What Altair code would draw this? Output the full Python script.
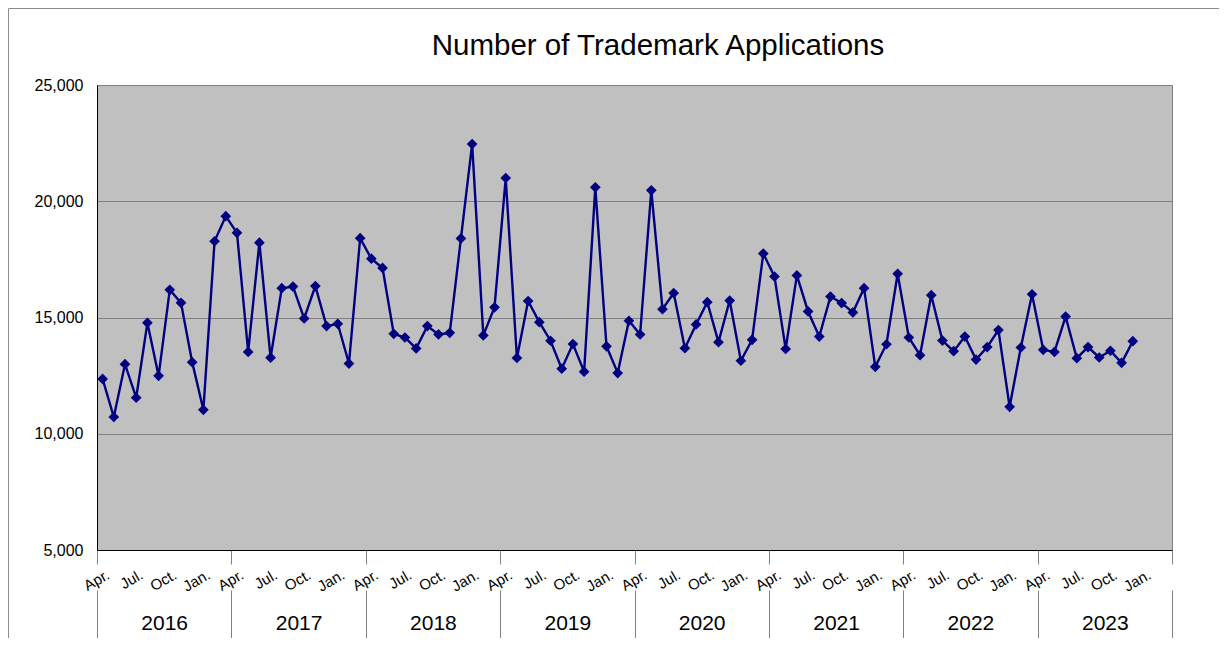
import altair as alt
import pandas as pd

# ---- data (fiscal years, April..March) ----
chart_title = "Number of Trademark Applications"
fiscal_years = ["2016", "2017", "2018", "2019", "2020", "2021", "2022", "2023"]
months = ["Apr.", "May", "Jun.", "Jul.", "Aug.", "Sep.", "Oct.", "Nov.", "Dec.", "Jan.", "Feb.", "Mar."]
month_tick_labels = ["Apr.", "Jul.", "Oct.", "Jan."]
y_ticks = [5000, 10000, 15000, 20000, 25000]

fy2016 = [12360, 10720, 12990, 11550, 14770, 12490, 16190, 15630, 13080, 11030, 18280, 19360]
fy2017 = [18640, 13520, 18220, 13270, 16260, 16330, 14960, 16350, 14630, 14730, 13020, 18410]
fy2018 = [17530, 17130, 14300, 14140, 13670, 14630, 14270, 14340, 18400, 22460, 14230, 15440]
fy2019 = [21000, 13260, 15710, 14800, 14000, 12800, 13860, 12670, 20600, 13760, 12610, 14860]
fy2020 = [14270, 20470, 15360, 16050, 13680, 14700, 15660, 13940, 15730, 13140, 14040, 17750]
fy2021 = [16760, 13650, 16810, 15260, 14180, 15900, 15620, 15220, 16260, 12880, 13850, 16880]
fy2022 = [14140, 13380, 15960, 14010, 13550, 14180, 13190, 13730, 14460, 11160, 13710, 16000]
fy2023 = [13610, 13520, 15040, 13250, 13730, 13280, 13570, 13050, 13980]

series = [fy2016, fy2017, fy2018, fy2019, fy2020, fy2021, fy2022, fy2023]

rows = []
for fy_i, vals in enumerate(series):
    for m_i, v in enumerate(vals):
        idx = fy_i * 12 + m_i
        rows.append({"pos": idx + 0.5, "value": v, "fy": fiscal_years[fy_i], "month": months[m_i]})
df = pd.DataFrame(rows)

n_slots = 12 * len(fiscal_years)
bounds = pd.DataFrame({"b": [12 * i for i in range(len(fiscal_years) + 1)]})
mids = pd.DataFrame({"m": [12 * i + 6 for i in range(len(fiscal_years))]})
title_df = pd.DataFrame({"t": [chart_title]})

FONT = "Liberation Sans"
NAVY = "#000080"
GRID = "#808080"

xdom = alt.Scale(domain=[0, n_slots], nice=False, zero=False)
ydom = alt.Scale(domain=[y_ticks[0], y_ticks[-1]], nice=False, zero=False)

month_expr = "[" + ",".join("'%s'" % s for s in month_tick_labels) + "][floor(datum.value/3)%4]"
year_expr = "[" + ",".join("'%s'" % s for s in fiscal_years) + "][floor(datum.value/12)]"

month_axis = alt.Axis(
    orient="bottom", values=[i + 0.5 for i in range(0, n_slots - 2, 3)], labelExpr=month_expr,
    labelAngle=-30, labelAlign="right", labelBaseline="middle", labelPadding=23, labelOffset=5,
    ticks=False, domain=True, domainColor="black", domainWidth=1, grid=False,
    labelFontSize=15, labelFont=FONT, labelColor="black", title=None,
    labelFlush=False, labelOverlap=False, labelBound=False,
)
y_axis = alt.Axis(
    values=y_ticks, labelExpr="format(datum.value, ',')", grid=True, gridColor=GRID, gridWidth=1,
    ticks=False, domain=True, domainColor="black", domainWidth=1, labelFontSize=16, labelFont=FONT,
    labelColor="black", labelPadding=14, title=None, labelFlush=False, labelOverlap=False,
)
sep_axis_top = alt.Axis(
    orient="bottom", values=bounds["b"].tolist(), labels=False, ticks=True, tickSize=14,
    tickColor=GRID, tickWidth=1, domain=False, grid=False, title=None,
)
sep_axis_bottom = alt.Axis(
    orient="bottom", values=bounds["b"].tolist(), labels=False, ticks=True, tickSize=52, offset=40,
    tickColor=GRID, tickWidth=1, domain=False, grid=False, title=None,
)
year_axis = alt.Axis(
    orient="bottom", values=mids["m"].tolist(), labelExpr=year_expr, ticks=False, domain=False,
    grid=False, title=None, labelFontSize=21, labelFont=FONT, labelColor="black",
    labelBaseline="middle", labelPadding=73, labelFlush=False, labelOverlap=False,
)

line = alt.Chart(df).mark_line(color=NAVY, strokeWidth=2.4).encode(
    x=alt.X("pos:Q", scale=xdom, axis=month_axis),
    y=alt.Y("value:Q", scale=ydom, axis=y_axis),
)
points = alt.Chart(df).mark_point(shape="diamond", filled=True, size=115, color=NAVY, opacity=1).encode(
    x=alt.X("pos:Q", scale=xdom, axis=None),
    y=alt.Y("value:Q", scale=ydom, axis=y_axis),
)
sep1 = alt.Chart(bounds).mark_point(opacity=0).encode(x=alt.X("b:Q", scale=xdom, axis=sep_axis_top))
sep2 = alt.Chart(bounds).mark_point(opacity=0).encode(x=alt.X("b:Q", scale=xdom, axis=sep_axis_bottom))
yrs = alt.Chart(mids).mark_point(opacity=0).encode(x=alt.X("m:Q", scale=xdom, axis=year_axis))

frame = alt.Chart(title_df).mark_rect(fill=None, stroke="#8c8c8c", strokeWidth=1).encode(
    x=alt.value(-88.5), x2=alt.value(1160), y=alt.value(-76.5), y2=alt.value(600)
)
title = alt.Chart(title_df).mark_text(
    font=FONT, fontSize=29.5, color="black", align="center", baseline="middle"
).encode(text="t:N", x=alt.value(561), y=alt.value(-39))

chart = alt.layer(frame, title, sep1, sep2, yrs, line, points).resolve_scale(x="independent").properties(
    width=1075,
    height=465,
    padding={"left": 89, "top": 77, "right": 47, "bottom": 88},
    autosize=alt.AutoSizeParams(type="none"),
    background="white",
).configure_view(fill="#C0C0C0", stroke=GRID, strokeWidth=1)

chart.save("out.html", embed_options={"renderer": "svg", "actions": False})
